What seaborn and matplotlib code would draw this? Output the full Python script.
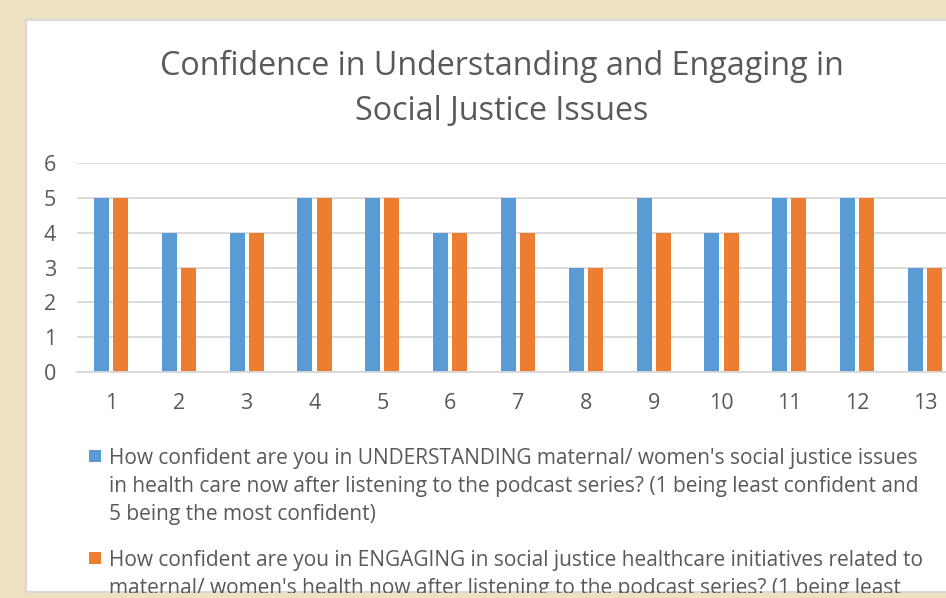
import numpy as np
import pandas as pd
import matplotlib
matplotlib.use("Agg")
import matplotlib.pyplot as plt
from matplotlib.patches import Rectangle
import seaborn as sns

# === Daten ===
respondents = [str(i) for i in range(1, 14)]
understanding = [5, 4, 4, 5, 5, 4, 5, 3, 5, 4, 5, 5, 3]
engaging = [5, 3, 4, 5, 5, 4, 4, 3, 4, 4, 5, 5, 3]
series_names = ["understanding", "engaging"]
legend_labels = [
    "How confident are you in UNDERSTANDING maternal/ women's social justice issues\n"
    "in health care now after listening to the podcast series? (1 being least confident and\n"
    "5 being the most confident)",
    "How confident are you in ENGAGING in social justice healthcare initiatives related to\n"
    "maternal/ women's health now after listening to the podcast series? (1 being least\n"
    "confident and 5 being the most confident)",
]
title = "Confidence in Understanding and Engaging in\nSocial Justice Issues"
colors = ["#5B9BD5", "#ED7D31"]

df = pd.DataFrame({
    "respondent": respondents * 2,
    "score": understanding + engaging,
    "question": [series_names[0]] * 13 + [series_names[1]] * 13,
})

# === Plot ===
sns.set_theme(style="white")
plt.rcParams["font.family"] = ["Open Sans", "DejaVu Sans"]
text_col = "#595959"
grid_col = "#D9D9D9"

W, H = 946, 598
fig = plt.figure(figsize=(W / 100, H / 100), dpi=100)
fig.patch.set_facecolor("#EDE1C1")

# weisses Panel
fig.add_artist(Rectangle((26 / W, 1 - 592 / H), 1.0, (592 - 20) / H, transform=fig.transFigure,
                         facecolor="white", edgecolor=grid_col, linewidth=1.5, zorder=-1))

ax = fig.add_axes([77 / W, 1 - 372 / H, (959 - 77) / W, (372 - 163) / H])
ax.set_facecolor("none")
sns.barplot(data=df, x="respondent", y="score", hue="question", palette=colors,
            saturation=1, width=0.566, gap=0.22, linewidth=0, legend=False, ax=ax)

ax.set_ylim(0, 6)
ax.set_yticks(range(0, 7))
ax.set_xlim(-0.5, 12.5)
ax.yaxis.grid(True, color=grid_col, linewidth=1.3)
ax.set_axisbelow(True)
for s in ["top", "right", "left"]:
    ax.spines[s].set_visible(False)
ax.spines["bottom"].set_color(grid_col)
ax.spines["bottom"].set_linewidth(1.3)
ax.tick_params(axis="both", length=0, labelsize=15.5, labelcolor=text_col)
ax.tick_params(axis="y", pad=15)
ax.tick_params(axis="x", pad=15)
ax.set_xlabel("")
ax.set_ylabel("")

fig.text(502 / W, 1 - 89 / H, title, ha="center", va="center", fontsize=23.2,
         color=text_col, linespacing=1.5)

# Legende (manuell, Marker an der ersten Zeile)
for i, (lab, col) in enumerate(zip(legend_labels, colors)):
    y0 = [450, 552][i]
    fig.add_artist(Rectangle((89 / W, 1 - (y0 + 12) / H), 12 / W, 12 / H,
                             transform=fig.transFigure, facecolor=col, edgecolor="none"))
    fig.text(109 / W, 1 - (y0 - 2) / H, lab, ha="left", va="top", fontsize=15,
             color=text_col, linespacing=1.45)

# unterer Rand
fig.add_artist(Rectangle((0, 0), 1, 5 / H, transform=fig.transFigure,
                         facecolor="#EDE1C1", edgecolor="none", zorder=10))

fig.savefig("out.png", dpi=100)
